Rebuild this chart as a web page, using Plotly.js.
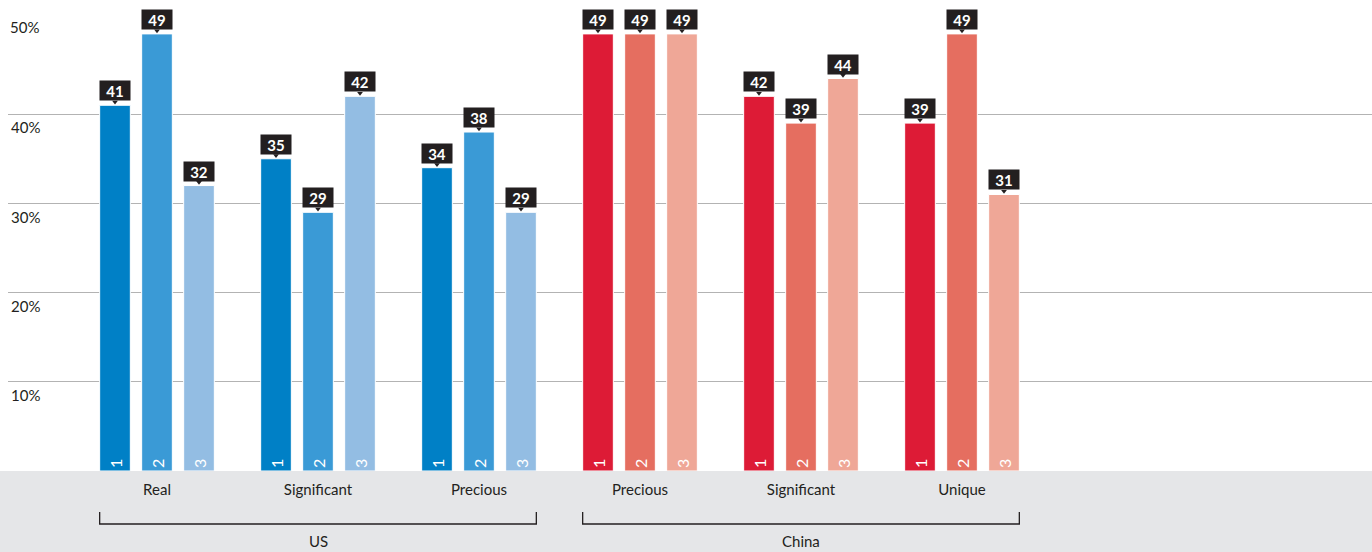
<!DOCTYPE html>
<html>
<head>
<meta charset="utf-8">
<script src="https://cdn.plot.ly/plotly-3.0.1.min.js"></script>
<style>
  html, body { margin: 0; padding: 0; background: #ffffff; }
  #chart { width: 1372px; height: 552px; }
</style>
</head>
<body>
<div id="chart"></div>
<script>
// Category labels along the bottom (three for the US, three for China)
const categories = ['Real', 'Significant', 'Precious', 'Precious', 'Significant', 'Unique'];
const groups = ['US', 'China'];

// Share (%) by rank position 1, 2, 3 in each category
const rank1 = [41, 35, 34, 49, 42, 39];
const rank2 = [49, 29, 38, 49, 39, 49];
const rank3 = [32, 42, 29, 49, 44, 31];
const rankNames = ['1', '2', '3'];

const yTicks = [10, 20, 30, 40];
const yTickText = ['10%', '20%', '30%', '40%'];

// Palettes: US blues, China reds, one shade per rank
const usColors = ['#0080c6', '#3a9ad6', '#93bde3'];
const cnColors = ['#dd1b36', '#e56e60', '#efa797'];

const ink = '#231f20';
const font = 'Lato, "Open Sans", sans-serif';

// Geometry of the grouped bars (data units per category = 1)
const bargap = 0.2174;
const bargroupgap = 0.27;
const slot = (1 - bargap) / 3;           // width of one bar slot
const barHalf = slot * (1 - bargroupgap) / 2;

const series = [rank1, rank2, rank3];
const xs = categories.map((_, i) => i);

const traces = series.map((vals, k) => ({
  type: 'bar',
  name: rankNames[k],
  x: xs,
  y: vals,
  marker: {
    color: xs.map(i => (i < 3 ? usColors[k] : cnColors[k])),
    line: { color: '#ffffff', width: 1 }
  },
  text: xs.map(() => rankNames[k]),
  textposition: 'inside',
  insidetextanchor: 'start',
  textangle: -90,
  constraintext: 'none',
  textfont: { family: font, size: 16, color: '#ffffff' },
  hoverinfo: 'skip'
}));

// Value call-outs: dark box with a small pointer above each bar
const annotations = [];
const ptrX = [], ptrY = [];
series.forEach((vals, k) => {
  vals.forEach((v, i) => {
    const x = i + (k - 1) * slot;
    annotations.push({
      x: x, y: v, xref: 'x', yref: 'y',
      text: '<b>' + v + '</b>',
      showarrow: false,
      yanchor: 'bottom', yshift: 4,
      width: 30, height: 19,
      bgcolor: ink, borderpad: 0,
      font: { family: font, size: 15, color: '#ffffff' }
    });
    ptrX.push(x);
    ptrY.push(v + 0.36);
  });
});

traces.push({
  type: 'scatter', mode: 'markers',
  x: ptrX, y: ptrY,
  marker: { symbol: 'triangle-down', size: 5, color: ink },
  hoverinfo: 'skip', showlegend: false
});

// Top tick label sits just under the top edge, without a gridline
annotations.push({
  x: 0, xref: 'paper', xanchor: 'left', xshift: 0,
  y: 50, yref: 'y', yanchor: 'middle', yshift: -2,
  text: '50%', showarrow: false,
  font: { family: font, size: 15, color: ink }
});

// Country labels under the brackets
const bandH = 81, plotH = 471;
groups.forEach((g, j) => {
  annotations.push({
    x: 1 + 3 * j, xref: 'x',
    y: -70 / plotH, yref: 'paper', yanchor: 'middle',
    text: g, showarrow: false,
    font: { family: font, size: 15, color: ink }
  });
});

const shapes = [{
  type: 'rect', xref: 'paper', yref: 'paper',
  x0: -0.01, x1: 1.01, y0: -bandH / plotH, y1: 0,
  fillcolor: '#e5e6e8', line: { width: 0 }, layer: 'below'
}];
const yTop = -41 / plotH, yBot = -53 / plotH;
groups.forEach((g, j) => {
  const a = 3 * j - slot - barHalf;
  const b = 3 * j + 2 + slot + barHalf;
  shapes.push({
    type: 'path', xref: 'x', yref: 'paper',
    path: `M${a},${yTop} L${a},${yBot} L${b},${yBot} L${b},${yTop}`,
    line: { color: ink, width: 1.3 }
  });
});

const x0 = -149 / 161;
const layout = {
  width: 1372, height: 552,
  margin: { l: 8, r: 0, t: 0, b: bandH, pad: 0 },
  paper_bgcolor: '#ffffff',
  plot_bgcolor: 'rgba(0,0,0,0)',
  showlegend: false,
  barmode: 'group',
  bargap: bargap,
  bargroupgap: bargroupgap,
  xaxis: {
    range: [x0, x0 + 1364 / 161],
    tickvals: xs, ticktext: categories,
    showgrid: false, zeroline: false, showline: false,
    ticks: 'outside', ticklen: 5, tickcolor: 'rgba(0,0,0,0)',
    tickfont: { family: font, size: 15, color: ink },
    fixedrange: true
  },
  yaxis: {
    range: [0, 52.8],
    tickvals: yTicks, ticktext: yTickText,
    ticklabelposition: 'inside',
    ticklabelshift: 14,
    showgrid: true, gridcolor: '#b3b3b3', gridwidth: 1,
    zeroline: false, showline: false, ticks: '',
    tickfont: { family: font, size: 15, color: ink },
    fixedrange: true
  },
  annotations: annotations,
  shapes: shapes
};

Plotly.newPlot('chart', traces, layout, { displayModeBar: false, staticPlot: true });
</script>
</body>
</html>
